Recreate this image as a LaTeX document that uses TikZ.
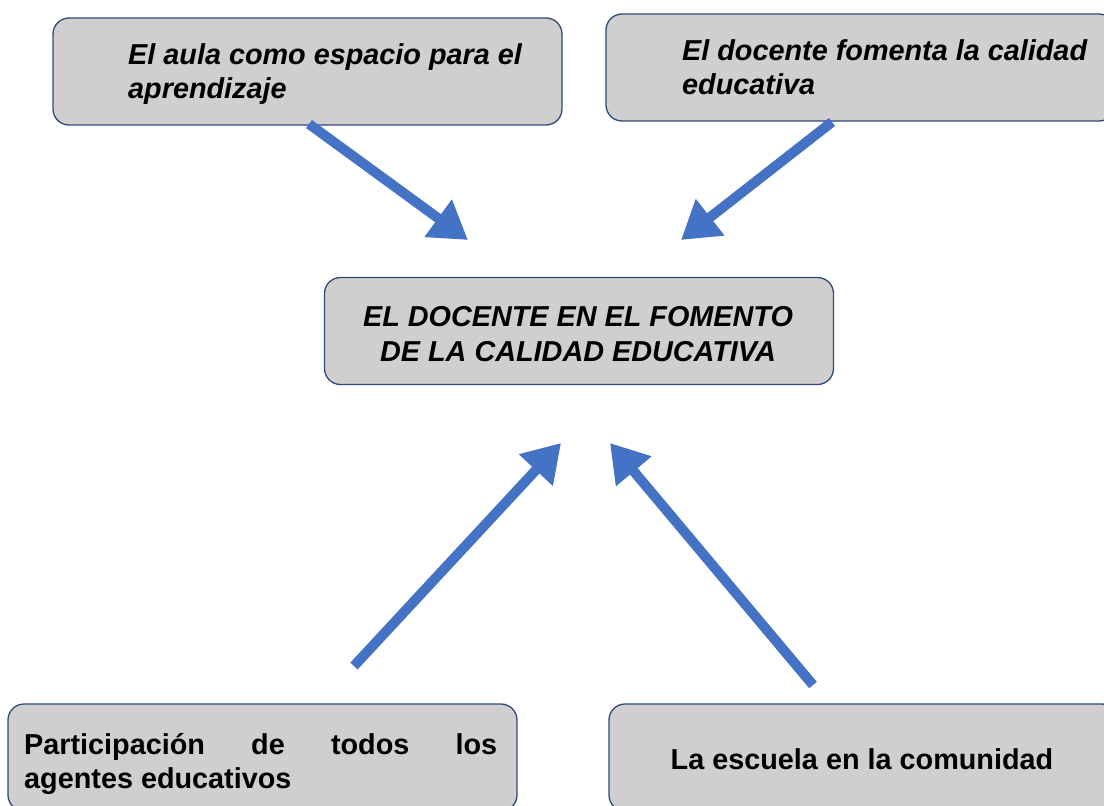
\documentclass[tikz,border=0pt]{standalone}
\usepackage{fontspec}
\setmainfont{Liberation Sans}
\usetikzlibrary{arrows.meta}
\definecolor{boxfill}{HTML}{D0CECE}
\definecolor{boxdraw}{HTML}{2F4A78}
\definecolor{arrowblue}{HTML}{4472C4}
\tikzset{
  box/.style={draw=boxdraw, line width=1.3pt, fill=boxfill, rounded corners=16pt,
    minimum width=509pt, minimum height=107pt, inner sep=0pt},
  lbl/.style={inner sep=0pt, font=\fontsize{28.8}{34.5}\selectfont\bfseries},
  bigarrow/.style={draw=arrowblue, line width=10pt,
    -{Triangle[width=44pt,length=37pt]}}
}
\begin{document}
\begin{tikzpicture}[x=1pt,y=-1pt]
\useasboundingbox (0,0) rectangle (1104,806);
% boxes
\node[box] (tl) at (307.5,71.5) {};
\node[box] (tr) at (860.5,67.5) {};
\node[box] (c) at (579,331) {};
\node[box] (bl) at (262.5,757.5) {};
\node[box] (br) at (863.5,757.5) {};
% texts
\node[lbl, anchor=north west, align=left] (tlt) at (128,43)
  {\itshape El aula como espacio para el\\\itshape aprendizaje};
\node[lbl, anchor=north west, align=left] (trt) at (682,39)
  {\itshape El docente fomenta la calidad\\\itshape educativa};
\node[lbl, align=center] (ct) at (578,334)
  {\itshape EL DOCENTE EN EL FOMENTO\\\itshape DE LA CALIDAD EDUCATIVA};
\node[lbl, anchor=north west, text width=473pt, align=justify] (blt) at (24,733)
  {Participación de todos los\linebreak agentes educativos};
\node[lbl] (brt) at (862,759) {La escuela en la comunidad};
% arrow end points
\coordinate (a1s) at (309,124);
\coordinate (a1e) at (468,240);
\coordinate (a2s) at (832,122);
\coordinate (a2e) at (681,240);
\coordinate (a3s) at (354,666);
\coordinate (a3e) at (561,443);
\coordinate (a4s) at (813,685);
\coordinate (a4e) at (610,443);
\draw[bigarrow] (a1s) -- (a1e);
\draw[bigarrow] (a2s) -- (a2e);
\draw[bigarrow] (a3s) -- (a3e);
\draw[bigarrow] (a4s) -- (a4e);
\end{tikzpicture}
\end{document}
